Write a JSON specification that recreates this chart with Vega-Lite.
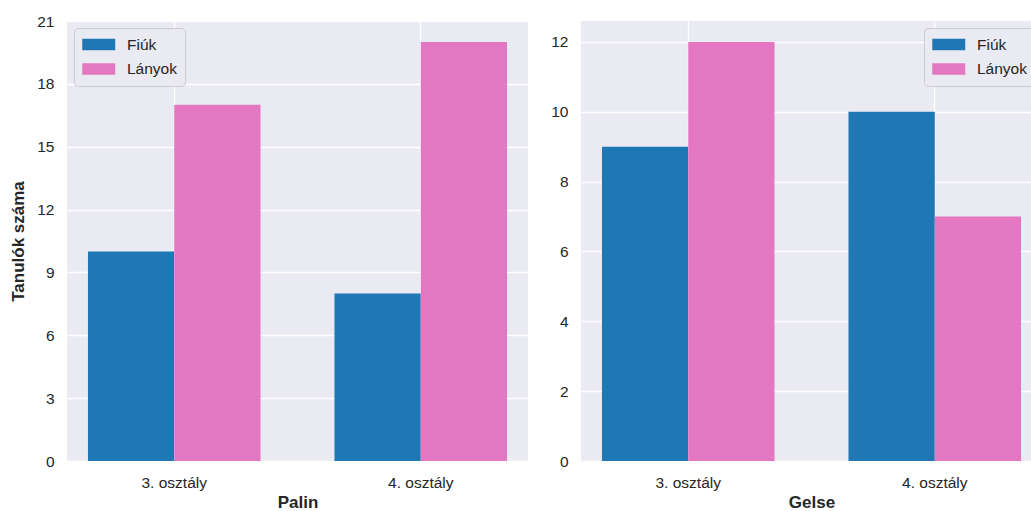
{
  "$schema": "https://vega.github.io/schema/vega-lite/v6.json",
  "padding": {"left": 9, "top": 14, "right": 0, "bottom": 0},
  "background": "white",
  "data": {"values": [
    {"town": "Palin", "grade": "3. osztály", "gender": "Fiúk", "count": 10},
    {"town": "Palin", "grade": "3. osztály", "gender": "Lányok", "count": 17},
    {"town": "Palin", "grade": "4. osztály", "gender": "Fiúk", "count": 8},
    {"town": "Palin", "grade": "4. osztály", "gender": "Lányok", "count": 20},
    {"town": "Gelse", "grade": "3. osztály", "gender": "Fiúk", "count": 9},
    {"town": "Gelse", "grade": "3. osztály", "gender": "Lányok", "count": 12},
    {"town": "Gelse", "grade": "4. osztály", "gender": "Fiúk", "count": 10},
    {"town": "Gelse", "grade": "4. osztály", "gender": "Lányok", "count": 7}
  ]},
  "spacing": 22,
  "resolve": {"legend": {"color": "independent"}, "scale": {"color": "independent"}},
  "hconcat": [
    {
      "width": 461, "height": 440,
      "transform": [{"filter": "datum.town === 'Palin'"}],
      "mark": {"type": "bar", "strokeWidth": 0},
      "encoding": {
        "x": {"field": "grade", "type": "nominal", "title": "Palin",
              "scale": {"paddingInner": 0.3, "paddingOuter": 0.085},
              "axis": {"labelAngle": 0, "bandPosition": 0.5}},
        "xOffset": {"field": "gender", "type": "nominal", "scale": {"domain": ["Fiúk", "Lányok"], "paddingInner": 0, "paddingOuter": 0}},
        "y": {"field": "count", "type": "quantitative", "title": "Tanulók száma",
              "scale": {"domain": [0, 21], "nice": false},
              "axis": {"values": [0, 3, 6, 9, 12, 15, 18, 21]}},
        "color": {"field": "gender", "type": "nominal",
                  "scale": {"domain": ["Fiúk", "Lányok"], "range": ["#1f77b4", "#e377c2"]},
                  "legend": {"title": null, "orient": "top-left"}}
      }
    },
    {
      "width": 461, "height": 440,
      "transform": [{"filter": "datum.town === 'Gelse'"}],
      "mark": {"type": "bar", "strokeWidth": 0},
      "encoding": {
        "x": {"field": "grade", "type": "nominal", "title": "Gelse",
              "scale": {"paddingInner": 0.3, "paddingOuter": 0.085},
              "axis": {"labelAngle": 0, "bandPosition": 0.5}},
        "xOffset": {"field": "gender", "type": "nominal", "scale": {"domain": ["Fiúk", "Lányok"], "paddingInner": 0, "paddingOuter": 0}},
        "y": {"field": "count", "type": "quantitative", "title": null,
              "scale": {"domain": [0, 12.6], "nice": false},
              "axis": {"values": [0, 2, 4, 6, 8, 10, 12]}},
        "color": {"field": "gender", "type": "nominal",
                  "scale": {"domain": ["Fiúk", "Lányok"], "range": ["#1f77b4", "#e377c2"]},
                  "legend": {"title": null, "orient": "top-right"}}
      }
    }
  ],
  "config": {
    "font": "Liberation Sans",
    "view": {"stroke": null, "fill": "#EAEAF2"},
    "axis": {
      "grid": true, "gridColor": "#FFFFFF", "gridWidth": 1.3,
      "domain": false, "ticks": false,
      "labelFont": "Liberation Sans", "labelFontSize": 15.5, "labelColor": "#262626", "labelPadding": 14,
      "titleFont": "Liberation Sans", "titleFontSize": 17, "titleFontWeight": "bold", "titleColor": "#262626", "titlePadding": 4
    },
    "axisY": {"titlePadding": 9, "labelPadding": 13},
    "legend": {
      "offset": 7, "padding": 8,
      "fillColor": "#EAEAF2", "strokeColor": "#CCCCCC", "cornerRadius": 4,
      "symbolType": "M-1,-0.7H3V0.7H-1Z", "symbolSize": 272, "symbolStrokeWidth": 0, "symbolOpacity": 1,
      "labelFont": "Liberation Sans", "labelFontSize": 15.5, "labelColor": "#262626", "labelOffset": 28,
      "rowPadding": 7.5
    }
  }
}
